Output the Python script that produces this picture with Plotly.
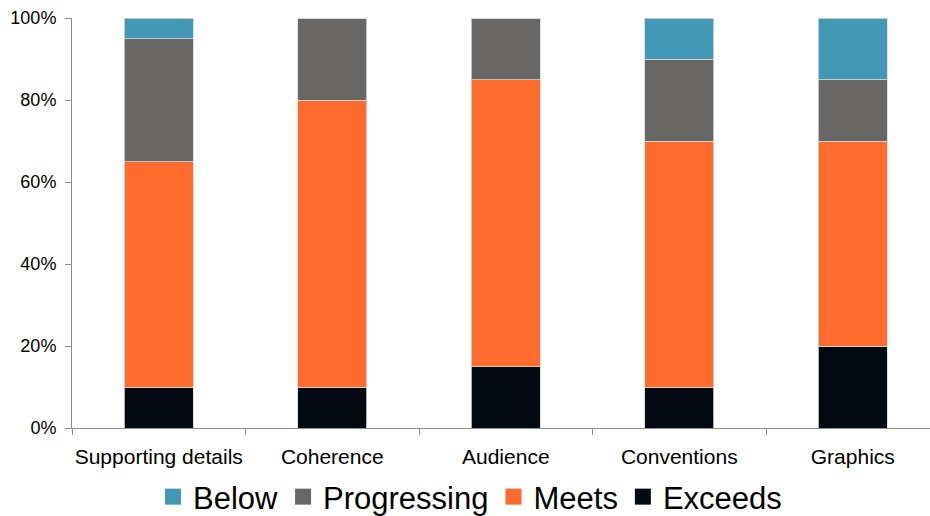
import plotly.graph_objects as go

categories = ["Supporting details", "Coherence", "Audience", "Conventions", "Graphics"]
exceeds = [10, 10, 15, 10, 20]
meets = [55, 70, 70, 60, 50]
progressing = [30, 20, 15, 20, 15]
below = [5, 0, 0, 10, 15]

series = [
    ("Exceeds", exceeds, "#050a12"),
    ("Meets", meets, "#ff6b2c"),
    ("Progressing", progressing, "#686765"),
    ("Below", below, "#4398b5"),
]

fig = go.Figure()
for name, vals, color in series:
    fig.add_trace(go.Bar(
        x=categories, y=vals, name=name, width=0.4, showlegend=False,
        legendgroup=name,
        marker=dict(color=color, line=dict(color="#d9d9d9", width=0.8)),
    ))
# legend entries with larger square swatches
for name, vals, color in series:
    fig.add_trace(go.Scatter(
        x=[None], y=[None], mode="markers", name=name, legendgroup=name,
        marker=dict(symbol="square", size=16, color=color, line=dict(width=0)),
    ))

fig.update_layout(
    barmode="stack",
    width=930, height=516,
    margin=dict(l=72, r=0, t=18, b=88),
    paper_bgcolor="white", plot_bgcolor="white",
    font=dict(family="Liberation Sans, Arial, sans-serif", color="#000000"),
    showlegend=True,
    legend=dict(
        orientation="h", traceorder="reversed",
        xref="container", yref="container",
        x=470 / 930, xanchor="center", y=19 / 516, yanchor="middle",
        font=dict(size=31), itemsizing="trace",
    ),
    xaxis=dict(
        range=[-0.5, 4.445], tickangle=0, automargin=False,
        tickson="boundaries", ticks="outside", ticklen=6, tickcolor="#8c8c8c",
        showline=True, linecolor="#8c8c8c", linewidth=1,
        tickfont=dict(size=21), showgrid=False, ticklabelstandoff=10,
    ),
    yaxis=dict(
        range=[0, 100], dtick=20, ticksuffix="%", automargin=False,
        ticks="outside", ticklen=6, tickcolor="#8c8c8c",
        showline=True, linecolor="#8c8c8c", linewidth=1,
        tickfont=dict(size=18), showgrid=False, zeroline=False,
        ticklabelstandoff=5,
    ),
)

fig.write_html("out.html")
